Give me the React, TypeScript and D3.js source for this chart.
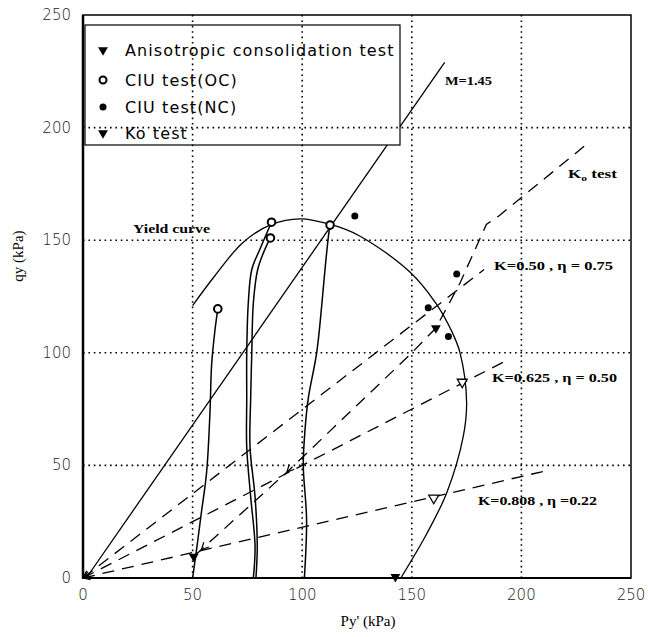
import React from 'react';
import * as d3 from 'd3';

type Pt = [number, number];

// axis ticks (kPa)
const axisTicks = [0, 50, 100, 150, 200, 250];

// yield curve
const yieldCurve: Pt[] = [[50, 121], [60, 134], [73, 149], [86, 157], [99, 159.5], [113, 157], [126, 152], [149, 136], [161, 122], [168, 110], [172, 100], [175, 78], [173.5, 63], [166, 38], [157, 20], [145, 0]];

// CIU (OC) effective stress paths
const ocPath1: Pt[] = [[50, 0], [52, 14], [54, 29], [56.4, 47], [57.9, 73], [58.7, 95], [60.2, 110], [61.5, 119.5]];
const ocPath2: Pt[] = [[77.7, 0], [78.5, 14], [76.5, 36], [74.7, 58], [74.7, 80], [74.7, 100], [75.4, 122], [77, 137], [80.7, 146], [86, 158]];
const ocPath3: Pt[] = [[78.9, 0], [79.5, 14], [78.5, 36], [76.2, 58], [76.5, 80], [77, 100], [77.7, 122], [79.7, 137], [83, 146], [85.5, 151]];
const ocPath4: Pt[] = [[101, 0], [102, 26], [100.5, 50], [101.3, 66], [102.8, 80], [106.6, 100], [109, 122], [110.4, 137], [112, 152], [112.7, 156.7]];

// straight lines
const mLine: Pt[] = [[1.5, 0], [165, 229]];
const eta075: Pt[] = [[0, 0], [183, 137]];
const eta050: Pt[] = [[0, 0], [192, 96]];
const eta022: Pt[] = [[0, 0], [213, 48]];
const k0Path: Pt[] = [[51, 10], [93, 47], [149, 99], [161, 111], [172, 131], [184, 157], [190, 161], [229, 192]];
const k0Arrows: Pt[] = [[54, 12.5], [93, 47]];

// markers
const ocPoints: Pt[] = [[61.5, 119.5], [86, 158], [85.5, 151], [112.7, 156.7]];
const ncPoints: Pt[] = [[124, 160.7], [170.5, 135], [157.5, 120], [166.7, 107.2]];
const anisoPoints: Pt[] = [[50.5, 9.5], [142.5, 0.5], [161, 111]];
const openTriPoints: Pt[] = [[173, 87], [160, 35.5]];

const legendLabels = ['Anisotropic consolidation test', 'CIU test(OC)', 'CIU test(NC)', 'Ko test'];

export default function App() {
  const W = 648, H = 637;
  const x = d3.scaleLinear().domain([0, 250]).range([83, 631]);
  const y = d3.scaleLinear().domain([0, 250]).range([578, 15]);
  const line = d3.line<Pt>().x(d => x(d[0])).y(d => y(d[1]));
  const smooth = d3.line<Pt>().x(d => x(d[0])).y(d => y(d[1])).curve(d3.curveCatmullRom.alpha(0.5));
  const tri = d3.symbol().type(d3.symbolTriangle).size(42)() as string;

  // small open arrowhead at tip, pointing away from "from"
  const arrow = (tip: Pt, from: Pt, len = 8) => {
    const tx = x(tip[0]), ty = y(tip[1]);
    const a = Math.atan2(y(from[1]) - ty, x(from[0]) - tx);
    const s = 0.45;
    return `M${tx + len * Math.cos(a - s)},${ty + len * Math.sin(a - s)}L${tx},${ty}L${tx + len * Math.cos(a + s)},${ty + len * Math.sin(a + s)}`;
  };

  const dash = '12 8';
  const grid = axisTicks.slice(1, -1);
  const labelFont = '"Liberation Serif", "Times New Roman", serif';

  return (
    <svg width={W} height={H} style={{ position: 'absolute', left: 0, top: 0, background: '#fff' }}>
      <rect width={W} height={H} fill="#fff" />

      {/* M line sits under the legend */}
      <path d={line(mLine)!} fill="none" stroke="#000" strokeWidth={1.3} />

      {/* legend box */}
      <rect x={85} y={25} width={315} height={120} fill="#fff" stroke="#000" strokeWidth={1.2} />

      {/* dotted grid */}
      {grid.map(t => (
        <g key={t}>
          <line x1={x(t)} x2={x(t)} y1={y(250)} y2={y(0)} stroke="#000" strokeWidth={1.6} strokeDasharray="1.6 3.8" />
          <line x1={x(0)} x2={x(250)} y1={y(t)} y2={y(t)} stroke="#000" strokeWidth={1.6} strokeDasharray="1.6 3.8" />
        </g>
      ))}

      {/* legend entries */}
      <g fontFamily='"DejaVu Sans", Verdana, sans-serif' fontSize={16} letterSpacing={1.1} fill="#000">
        {legendLabels.map((l, i) => {
          const cy = [50, 80, 107, 133][i];
          return (
            <g key={l}>
              {i === 1 ? <circle cx={103} cy={cy} r={3.5} fill="#fff" stroke="#000" strokeWidth={2} />
                : i === 2 ? <circle cx={103} cy={cy} r={3.5} fill="#000" />
                : <path d={tri} transform={`translate(103,${cy}) rotate(180)`} fill="#000" />}
              <text x={125} y={cy + 6}>{l}</text>
            </g>
          );
        })}
      </g>

      {/* yield curve */}
      <path d={smooth(yieldCurve)!} fill="none" stroke="#000" strokeWidth={1.3} />

      {/* stress paths */}
      {[ocPath1, ocPath2, ocPath3, ocPath4].map((p, i) => (
        <path key={i} d={smooth(p)!} fill="none" stroke="#000" strokeWidth={1.5} />
      ))}

      {/* dashed eta lines and K0 path */}
      {[eta075, eta050, eta022].map((p, i) => (
        <g key={i}>
          <path d={line(p)!} fill="none" stroke="#000" strokeWidth={1.3} strokeDasharray={dash} />
          <path d={arrow(p[0], p[1])} fill="none" stroke="#000" strokeWidth={1.2} />
        </g>
      ))}
      <path d={line(k0Path)!} fill="none" stroke="#000" strokeWidth={1.3} strokeDasharray={dash} />
      {k0Arrows.map((p, i) => (
        <path key={i} d={arrow(p, k0Path[k0Path.length - 1])} fill="none" stroke="#000" strokeWidth={1.2} />
      ))}

      {/* markers */}
      {ocPoints.map((p, i) => (
        <circle key={i} cx={x(p[0])} cy={y(p[1])} r={3.8} fill="#fff" stroke="#000" strokeWidth={2} />
      ))}
      {ncPoints.map((p, i) => (
        <circle key={i} cx={x(p[0])} cy={y(p[1])} r={3.5} fill="#000" />
      ))}
      {anisoPoints.map((p, i) => (
        <path key={i} d={tri} transform={`translate(${x(p[0])},${y(p[1])}) rotate(180)`} fill="#000" />
      ))}
      {openTriPoints.map((p, i) => (
        <path key={i} d={tri} transform={`translate(${x(p[0])},${y(p[1])}) rotate(180)`} fill="#fff" stroke="#000" strokeWidth={1.3} />
      ))}

      {/* annotations */}
      <g fontFamily={labelFont} fontWeight="bold" fontSize={13.5} fill="#000">
        <text x={445} y={85} textLength={47} lengthAdjust="spacingAndGlyphs">M=1.45</text>
        <text x={568} y={178} textLength={49} lengthAdjust="spacingAndGlyphs">K<tspan fontSize={9} dy={3}>o</tspan><tspan dy={-3}> test</tspan></text>
        <text x={494} y={270} textLength={119} lengthAdjust="spacingAndGlyphs">K=0.50 , η = 0.75</text>
        <text x={492} y={382} textLength={125} lengthAdjust="spacingAndGlyphs">K=0.625 , η = 0.50</text>
        <text x={478} y={505} textLength={119} lengthAdjust="spacingAndGlyphs">K=0.808 , η =0.22</text>
        <text x={133} y={233} fontSize={12} textLength={77} lengthAdjust="spacingAndGlyphs">Yield curve</text>
      </g>

      {/* frame */}
      <rect x={x(0)} y={y(250)} width={x(250) - x(0)} height={y(0) - y(250)} fill="none" stroke="#000" strokeWidth={1.5} />
      <line x1={x(0)} x2={x(0)} y1={y(250)} y2={y(0)} stroke="#000" strokeWidth={2.5} />
      <line x1={x(0)} x2={x(250)} y1={y(0)} y2={y(0)} stroke="#000" strokeWidth={2} />

      {/* tick labels */}
      <g fontFamily='"DejaVu Sans", sans-serif' fontWeight={200} fontSize={15} fill="#222">
        {axisTicks.map(t => (
          <text key={`x${t}`} x={x(t)} y={600} textAnchor="middle">{t}</text>
        ))}
        {axisTicks.map(t => (
          <text key={`y${t}`} x={71} y={y(t) + 5} textAnchor="end">{t}</text>
        ))}
      </g>

      {/* axis titles */}
      <text x={368} y={626} textAnchor="middle" fontFamily={labelFont} fontSize={15}>Py' (kPa)</text>
      <text transform="translate(23,256) rotate(-90)" textAnchor="middle" fontFamily={labelFont} fontSize={15}>qy  (kPa)</text>
    </svg>
  );
}
